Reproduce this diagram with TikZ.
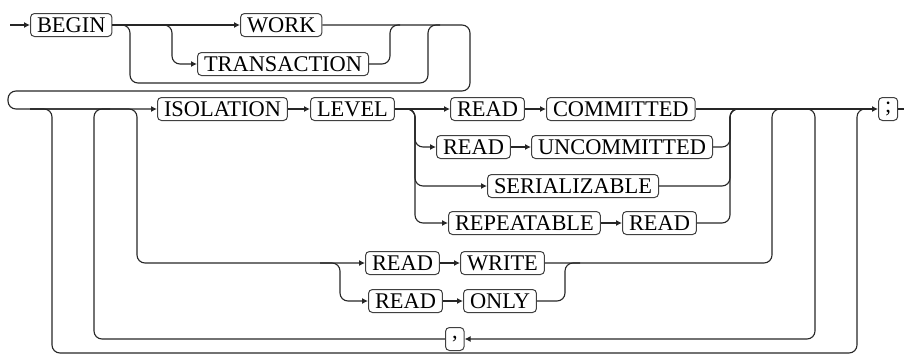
\documentclass[tikz,border=0pt]{standalone}
\usepackage{fontspec}
\setmainfont{Liberation Serif}
\usetikzlibrary{arrows.meta}
\begin{document}
\begin{tikzpicture}[x=1pt,y=-1pt,
  kw/.style={draw=black!75,line width=1pt,rounded corners=4pt,
    minimum height=23pt,inner xsep=6.5pt,inner ysep=0pt,anchor=west,
    font=\fontsize{22.4}{24}\selectfont},
  rail/.style={draw=black!85,line width=1.1pt,rounded corners=8pt},
  arr/.style={-{Latex[length=6pt,width=6pt]}}]
  \useasboundingbox (0,0) rectangle (904,356);
  % keywords
  \node[kw] (begin) at (30,25) {BEGIN};
  \node[kw] (work) at (240,25) {WORK};
  \node[kw] (trans) at (197,64) {TRANSACTION};
  \node[kw] (iso) at (157,109) {ISOLATION};
  \node[kw] (level) at (310,109) {LEVEL};
  \node[kw] (readA) at (450,109) {READ};
  \node[kw] (commit) at (546,109) {COMMITTED};
  \node[kw] (readB) at (436,147) {READ};
  \node[kw] (uncommit) at (531,147) {UNCOMMITTED};
  \node[kw] (serial) at (487,186) {SERIALIZABLE};
  \node[kw] (repeat) at (448,223) {REPEATABLE};
  \node[kw] (readC) at (622,223) {READ};
  \node[kw] (readD) at (365,263) {READ};
  \node[kw] (write) at (460,263) {WRITE};
  \node[kw] (readE) at (368,301) {READ};
  \node[kw] (only) at (463,301) {ONLY};
  \node[kw] (comma) at (445,339) {,};
  \node[kw] (semi) at (878,109) {;};
  % junctions
  \coordinate (start) at (10,25);
  \coordinate (k1) at (130,50);
  \coordinate (k2) at (280,83);
  \coordinate (k3) at (428,50);
  \coordinate (k4) at (440,25);
  \coordinate (s1) at (172,44);
  \coordinate (t1) at (390,44);
  \coordinate (t2) at (400,25);
  \coordinate (wrapR) at (470,58);
  \coordinate (wrapL) at (8,91);
  \coordinate (a1) at (415,128);
  \coordinate (b1) at (730,128);
  \coordinate (b2) at (742,109);
  \coordinate (o0) at (30,109);
  \coordinate (o1) at (52,230);
  \coordinate (o2) at (455,353);
  \coordinate (o3) at (857,230);
  \coordinate (o4) at (870,109);
  \coordinate (r1) at (137,190);
  \coordinate (r2) at (320,263);
  \coordinate (r3) at (340,282);
  \coordinate (w1) at (565,282);
  \coordinate (w2) at (580,263);
  \coordinate (w3) at (772,190);
  \coordinate (w4) at (785,109);
  \coordinate (c0) at (800,109);
  \coordinate (c1) at (815,220);
  \coordinate (c2) at (94,220);
  \coordinate (c3) at (110,109);
  \coordinate (stop) at (904,109);
  % first line
  \draw[rail,arr] (start) -- (begin.west);
  \draw[rail,arr] (begin.east) -- (work.west);
  \draw[rail,arr] (begin.east) -| (s1) |- (trans.west);
  \draw[rail] (begin.east) -| (k1) |- (k2) -| (k3) |- (k4);
  \draw[rail] (trans.east) -| (t1) |- (t2);
  \draw[rail,arr] (work.east) -| (wrapR) |- (wrapL) |- (iso.west);
  % isolation level
  \draw[rail,arr] (iso.east) -- (level.west);
  \draw[rail,arr] (level.east) -- (readA.west);
  \draw[rail,arr] (readA.east) -- (commit.west);
  \draw[rail,arr] (level.east) -| (a1) |- (readB.west);
  \draw[rail,arr] (readB.east) -- (uncommit.west);
  \draw[rail,arr] (level.east) -| (a1) |- (serial.west);
  \draw[rail,arr] (level.east) -| (a1) |- (repeat.west);
  \draw[rail,arr] (repeat.east) -- (readC.west);
  \draw[rail] (uncommit.east) -| (b1) |- (b2);
  \draw[rail] (serial.east) -| (b1) |- (b2);
  \draw[rail] (readC.east) -| (b1) |- (b2);
  % read write / read only
  \draw[rail,arr] (o0) -| (r1) |- (readD.west);
  \draw[rail,arr] (readD.east) -- (write.west);
  \draw[rail,arr] (r2) -| (r3) |- (readE.west);
  \draw[rail,arr] (readE.east) -- (only.west);
  \draw[rail] (only.east) -| (w1) |- (w2);
  \draw[rail] (write.east) -| (w3) |- (w4);
  % repeat with comma, skip all
  \draw[rail,arr] (c0) -| (c1) |- (comma.east);
  \draw[rail] (comma.west) -| (c2) |- (c3);
  \draw[rail] (o0) -| (o1) |- (o2) -| (o3) |- (o4);
  % end
  \draw[rail,arr] (commit.east) -- (semi.west);
  \draw[rail] (semi.east) -- (stop);
\end{tikzpicture}
\end{document}
